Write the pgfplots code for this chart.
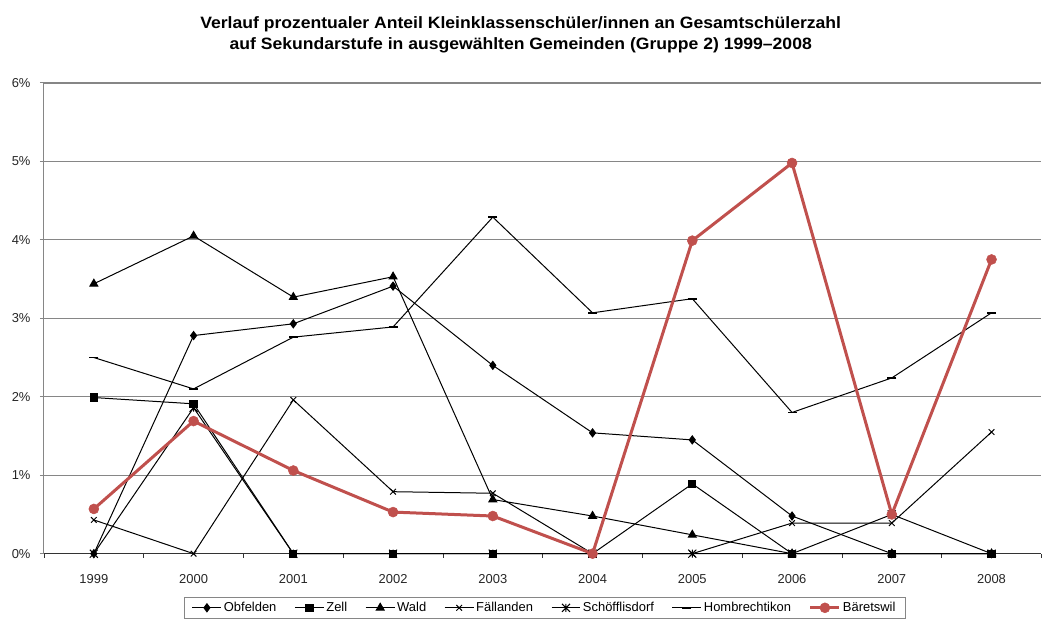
\documentclass[border=0pt]{standalone}
\usepackage{fontspec}
\setmainfont{Liberation Sans}
\newfontfamily\titlefont[FakeStretch=1.07, Ligatures=TeX]{Liberation Sans}
\usepackage{pgfplots}
\pgfplotsset{compat=1.18}

\definecolor{bred}{RGB}{192,80,77}
\definecolor{gridgray}{RGB}{134,134,134}

% Excel "star" marker: x with a vertical bar
\pgfdeclareplotmark{xstar}{%
  \pgfpathmoveto{\pgfqpoint{-\pgfplotmarksize}{-\pgfplotmarksize}}%
  \pgfpathlineto{\pgfqpoint{\pgfplotmarksize}{\pgfplotmarksize}}%
  \pgfpathmoveto{\pgfqpoint{-\pgfplotmarksize}{\pgfplotmarksize}}%
  \pgfpathlineto{\pgfqpoint{\pgfplotmarksize}{-\pgfplotmarksize}}%
  \pgfpathmoveto{\pgfqpoint{0pt}{-\pgfplotmarksize}}%
  \pgfpathlineto{\pgfqpoint{0pt}{\pgfplotmarksize}}%
  \pgfusepathqstroke}

\begin{document}
\begin{tikzpicture}
  \begin{axis}[
      scale only axis,
      width=998bp, height=471bp,
      xmin=-0.5, xmax=9.5,
      ymin=0, ymax=6,
      xtick={0,...,9},
      xticklabels={1999,2000,2001,2002,2003,2004,2005,2006,2007,2008},
      minor xtick={-0.5,0.5,...,9.5},
      ytick={0,...,6},
      yticklabel={\pgfmathprintnumber{\tick}\%},
      /pgf/number format/assume math mode=true,
      axis x line*=bottom,
      axis y line*=left,
      x axis line style={black!80, line width=1bp},
      y axis line style={gridgray, line width=1bp},
      tick align=outside,
      major x tick style={draw=none},
      minor x tick style={black!80, line width=0.8bp},
      minor tick length=4bp,
      major tick length=4bp,
      y tick style={gridgray, line width=1bp},
      ymajorgrids,
      grid style={gridgray, line width=1.2bp},
      ticklabel style={font=\fontsize{13}{15}\selectfont, text=black!85},
      xticklabel style={yshift=-13bp},
      yticklabel style={xshift=-6bp},
      clip=false,
      legend columns=7,
      legend style={at={(0.502,-0.092)}, anchor=north, draw=gridgray,
        line width=0.8bp, font=\fontsize{13}{15}\selectfont,
        inner xsep=8bp, inner ysep=3bp,
        /tikz/every even column/.append style={column sep=16bp}},
      legend image code/.code={%
        \draw[mark repeat=2, mark phase=2]
          plot coordinates {(0bp,0bp) (14.5bp,0bp) (29bp,0bp)};},
    ]
    \addplot[black, line width=1bp, mark=diamond*, mark size=4bp, mark options={solid, fill=black}] coordinates {
      (0,0) (1,2.78) (2,2.93) (3,3.41) (4,2.40) (5,1.54) (6,1.45) (7,0.48) (8,0) (9,0)};
    \addplot[black, line width=1bp, mark=square*, mark size=3.6bp, mark options={solid, fill=black}] coordinates {
      (0,1.99) (1,1.91) (2,0) (3,0) (4,0) (5,0) (6,0.89) (7,0) (8,0) (9,0)};
    \addplot[black, line width=1bp, mark=triangle*, mark size=4.5bp, mark options={solid, fill=black}] coordinates {
      (0,3.44) (1,4.05) (2,3.27) (3,3.53) (4,0.69) (5,0.48) (6,0.24) (7,0) (8,0) (9,0)};
    \addplot[black, line width=1bp, mark=x, mark size=4bp, mark options={solid}] coordinates {
      (0,0.43) (1,0) (2,1.96) (3,0.79) (4,0.77) (5,0) (6,0) (7,0.39) (8,0.39) (9,1.55)};
    \addplot[black, line width=1bp, mark=xstar, mark size=4bp, mark options={solid}] coordinates {
      (0,0) (1,1.86) (2,0) (3,0) (4,0) (5,0) (6,0) (7,0) (8,0.50) (9,0)};
    \addplot[black, line width=1bp, mark=-, mark size=4.5bp, mark options={solid, line width=1.8bp}] coordinates {
      (0,2.50) (1,2.10) (2,2.76) (3,2.89) (4,4.29) (5,3.07) (6,3.25) (7,1.80) (8,2.24) (9,3.07)};
    \addplot[bred, line width=3bp, mark=*, mark size=5bp,
        mark options={solid, fill=bred, draw=bred, line width=0.5bp}] coordinates {
      (0,0.57) (1,1.69) (2,1.06) (3,0.53) (4,0.48) (5,0) (6,3.99) (7,4.98) (8,0.50) (9,3.75)};
    \legend{Obfelden, Zell, Wald, Fällanden, Schöfflisdorf, Hombrechtikon, Bäretswil}
  \end{axis}
  \node[align=center, font=\titlefont\bfseries\fontsize{16.5}{21}\selectfont]
    at ([shift={(-22bp,48bp)}]current axis.north)
    {Verlauf prozentualer Anteil Kleinklassenschüler/innen an Gesamtschülerzahl\\
     auf Sekundarstufe in ausgewählten Gemeinden (Gruppe 2) 1999–2008};
  \path[use as bounding box]
    ([shift={(-44bp,-65bp)}]current axis.south west)
    rectangle ([shift={(0bp,83bp)}]current axis.north east);
\end{tikzpicture}
\end{document}
